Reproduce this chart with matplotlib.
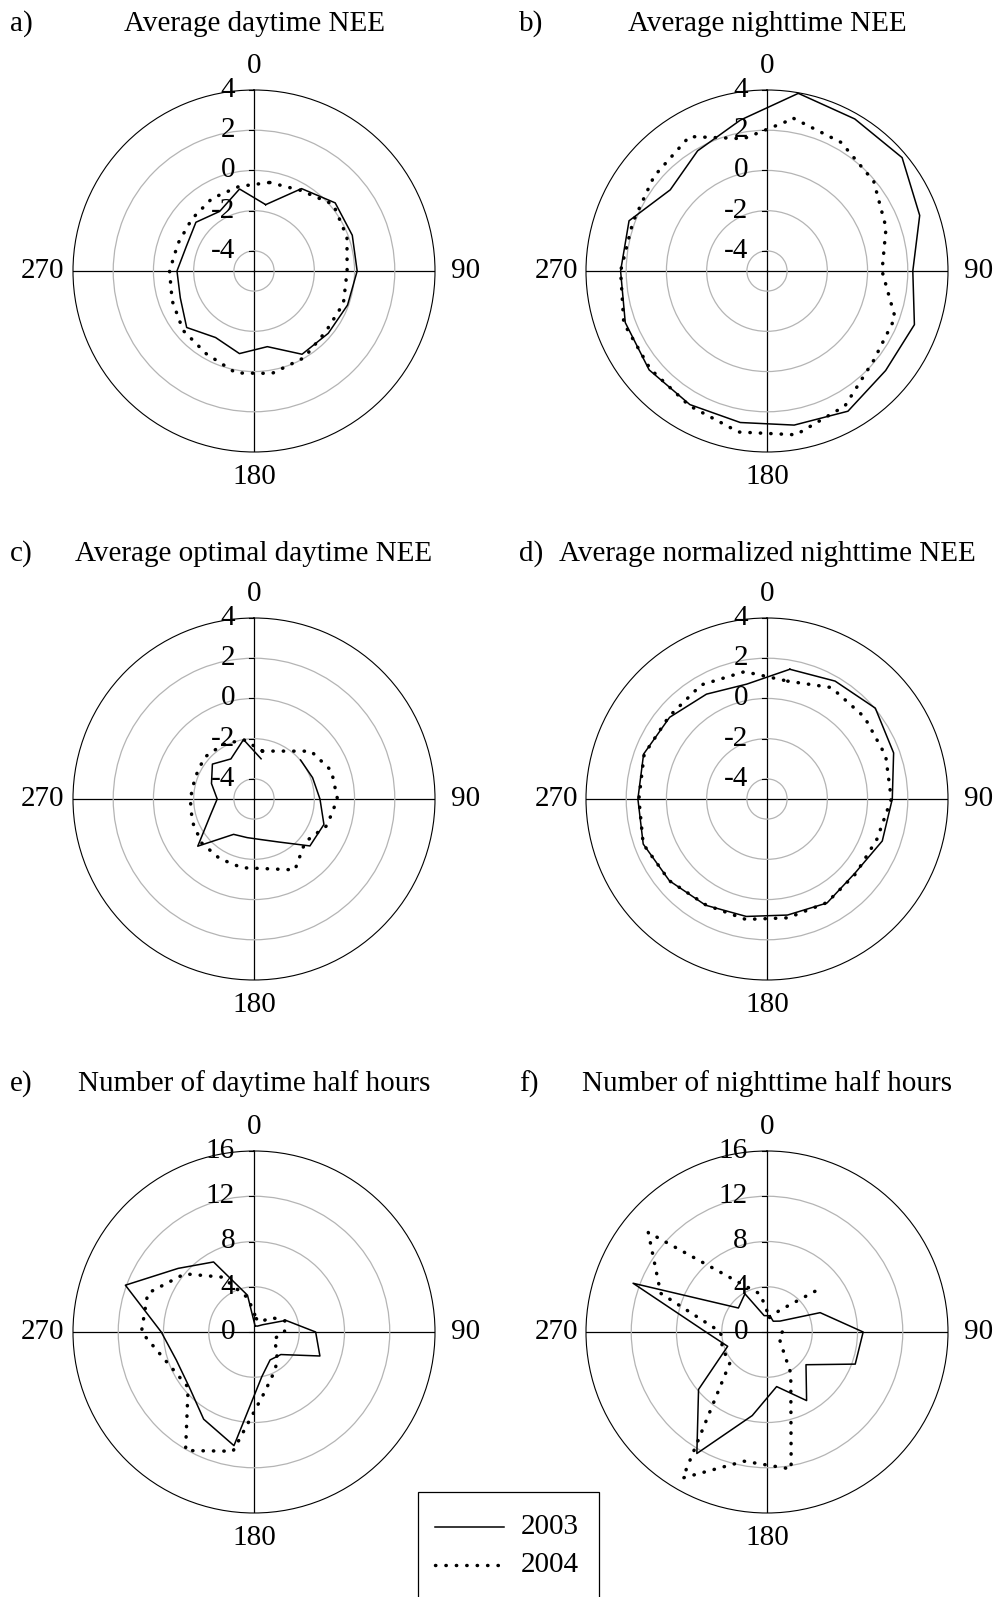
import numpy as np
import matplotlib
matplotlib.use('Agg')
import matplotlib.pyplot as plt
from matplotlib.lines import Line2D
from matplotlib.patches import Rectangle

plt.rcParams['font.family'] = ['Liberation Serif', 'DejaVu Serif']

# wind direction sectors (degrees)
directions = [10, 30, 50, 70, 90, 110, 130, 150, 170, 190, 210, 230, 250, 270, 290, 310, 330, 350]
nan = np.nan

a_2003 = [-1.65, -0.27, 0.27, 0.2, 0.13, -0.05, -0.18, -0.22, -1.18, -0.83, -1.18, -0.63, -1.1, -1.17, -1.42, -1.23, -1.58, -0.86]
a_2004 = [-0.53, -0.37, 0.15, -0.08, -0.37, -0.27, -0.33, -0.02, 0.17, 0.15, -0.25, -0.4, -0.67, -0.8, -0.98, -0.97, -0.83, -0.73]

b_2003 = [3.97, 3.73, 3.77, 3.08, 2.25, 2.8, 2.7, 3.05, 2.78, 2.65, 2.67, 2.65, 2.5, 2.28, 2.3, 1.28, 1.9, 2.62]
b_2004 = [2.7, 2.38, 1.93, 1.3, 0.72, 1.78, 1.92, 2.75, 3.27, 3.13, 2.73, 2.58, 2.58, 2.28, 2.1, 2.33, 2.72, 1.68]

c_2003 = [-2.97, nan, -1.98, -1.9, -1.72, -1.3, -1.37, -2.53, -2.95, -3.05, -2.97, -1.35, -2.7, -3.17, -2.75, -2.3, -2.7, -2.0]
c_2004 = [-2.58, -2.25, -1.3, -0.9, -0.85, -1.14, -1.68, -0.93, -1.48, -1.53, -1.58, -1.6, -1.73, -1.83, -1.88, -1.78, -1.88, -2.0]

d_2003 = [1.55, 1.77, 2.03, 1.7, 1.23, 1.1, 0.72, 0.97, 0.86, 0.93, 1.1, 1.33, 1.55, 1.42, 1.53, 1.32, 1.02, 0.8]
d_2004 = [0.95, 1.4, 1.33, 1.28, 1.18, 0.82, 0.77, 0.95, 1.0, 1.08, 1.08, 1.33, 1.55, 1.37, 1.5, 1.37, 1.55, 1.43]

e_2003 = [0.55, 0.6, 1.0, 3.0, 5.45, 6.2, 3.1, 2.85, 4.0, 10.2, 8.9, 7.5, 7.3, 8.2, 12.1, 8.75, 7.15, 3.3]
e_2004 = [1.2, 1.0, 2.0, 2.9, 2.7, 1.85, 2.7, 3.8, 5.4, 10.7, 12.1, 7.6, 8.1, 9.95, 10.0, 8.0, 5.6, 3.05]

f_2003 = [1.46, 1.1, 1.5, 5.0, 8.5, 8.3, 4.5, 7.0, 4.9, 7.5, 12.4, 7.9, 3.7, 5.4, 12.6, 3.3, 3.9, 1.47]
f_2004 = [1.3, 2.2, 5.7, nan, 1.35, 1.1, 1.6, 4.2, 12.3, 11.6, 14.9, 4.3, 4.2, 4.1, 10.0, 13.7, 5.1, 3.4]

nee_rings = [-4, -2, 0, 2, 4]
count_rings = [0, 4, 8, 12, 16]

panels = [
    ('a)', 'Average daytime NEE', a_2003, a_2004, nee_rings, -5, 4),
    ('b)', 'Average nighttime NEE', b_2003, b_2004, nee_rings, -5, 4),
    ('c)', 'Average optimal daytime NEE', c_2003, c_2004, nee_rings, -5, 4),
    ('d)', 'Average normalized nighttime NEE', d_2003, d_2004, nee_rings, -5, 4),
    ('e)', 'Number of daytime half hours', e_2003, e_2004, count_rings, 0, 16),
    ('f)', 'Number of nighttime half hours', f_2003, f_2004, count_rings, 0, 16),
]

W, H = 1000, 1597
R = 181
centers_x = [254, 767]
centers_y = [271, 799, 1332]
title_y = [24, 554, 1084]
FS = 21


def fx(x):
    return x / W


def fy(y):
    return 1 - y / H


fig = plt.figure(figsize=(W / 100, H / 100), dpi=100)

theta = np.deg2rad(directions + [directions[0] + 360])
solid_kw = dict(color='black', lw=1.1)
dot_kw = dict(color='black', lw=2.5, linestyle=(0, (0.1, 2.9)), dash_capstyle='round')

for i, (letter, title, s03, s04, rings, rmin, rmax) in enumerate(panels):
    row, col = divmod(i, 2)
    cx, cy = centers_x[col], centers_y[row]
    ax = fig.add_axes([fx(cx - R), fy(cy + R), 2 * R / W, 2 * R / H], projection='polar')
    ax.set_theta_zero_location('N')
    ax.set_theta_direction(-1)

    ax.plot(theta, s03 + [s03[0]], **solid_kw)
    ax.plot(theta, s04 + [s04[0]], **dot_kw)

    ax.set_xticks(np.deg2rad([0, 90, 180, 270]))
    ax.set_xticklabels([])
    ax.xaxis.grid(True, color='black', lw=0.9)
    ax.set_yticks([r for r in rings if rmin < r < rmax])
    ax.set_yticklabels([])
    ax.yaxis.grid(True, color='#b4b4b4', lw=0.9)
    ax.set_ylim(rmin, rmax)
    ax.spines['polar'].set_color('black')
    ax.spines['polar'].set_linewidth(0.8)
    ax.tick_params(length=0)

    # radial labels along the north axis
    for r in rings:
        ypx = cy - (r - rmin) / (rmax - rmin) * R
        fig.text(fx(cx - 19), fy(ypx), str(r), ha='right', va='center', fontsize=FS)
        fig.add_artist(Line2D([fx(cx - 5), fx(cx)], [fy(ypx), fy(ypx)], color='black', lw=0.8))

    # direction labels
    fig.text(fx(cx), fy(cy - 205), '0', ha='center', va='center', fontsize=FS)
    fig.text(fx(cx), fy(cy + 206), '180', ha='center', va='center', fontsize=FS)
    fig.text(fx(cx + 212), fy(cy), '90', ha='center', va='center', fontsize=FS)
    fig.text(fx(cx - 211), fy(cy), '270', ha='center', va='center', fontsize=FS)

    # panel titles
    fig.text(fx(10 if col == 0 else 519), fy(title_y[row]), letter, ha='left', va='center', fontsize=FS)
    fig.text(fx(cx), fy(title_y[row]), title, ha='center', va='center', fontsize=FS)

# legend box at the bottom
fig.add_artist(Rectangle((fx(418), fy(1610)), fx(599) - fx(418), fy(1492) - fy(1610),
                         transform=fig.transFigure, fill=False, edgecolor='black', lw=0.9))
fig.add_artist(Line2D([fx(435), fx(504)], [fy(1527), fy(1527)], **solid_kw))
fig.add_artist(Line2D([fx(435), fx(504)], [fy(1565), fy(1565)], **dot_kw))
fig.text(fx(521), fy(1527), '2003', ha='left', va='center', fontsize=FS)
fig.text(fx(521), fy(1565), '2004', ha='left', va='center', fontsize=FS)

fig.savefig('out.png', dpi=100)
